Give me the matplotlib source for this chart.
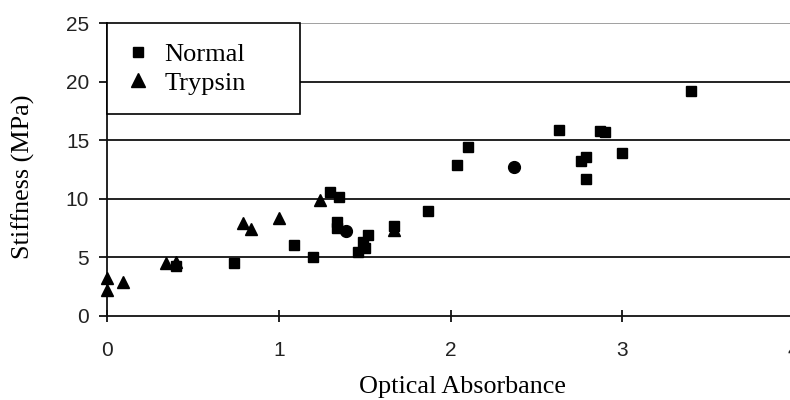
import matplotlib
matplotlib.use("Agg")
import matplotlib.pyplot as plt
from matplotlib.lines import Line2D

# Data
normal_x = [0.40, 0.74, 1.09, 1.20, 1.30, 1.35, 1.34, 1.34, 1.46, 1.50, 1.49, 1.52,
            1.67, 1.87, 2.04, 2.10, 2.63, 2.76, 2.79, 2.79, 2.87, 2.90, 3.00, 3.40]
normal_y = [4.2, 4.5, 6.0, 5.0, 10.6, 10.1, 8.0, 7.5, 5.4, 5.8, 6.3, 6.9,
            7.7, 8.9, 12.9, 14.4, 15.9, 13.2, 13.6, 11.7, 15.8, 15.7, 13.9, 19.2]
trypsin_x = [0.00, 0.00, 0.09, 0.34, 0.40, 0.79, 0.84, 1.00, 1.24, 1.67]
trypsin_y = [3.2, 2.2, 2.9, 4.5, 4.6, 7.9, 7.4, 8.3, 9.9, 7.3]
overlap_x = [1.39, 2.37]
overlap_y = [7.2, 12.7]

xticks = [0, 1, 2, 3, 4]
yticks = [0, 5, 10, 15, 20, 25]

fig = plt.figure(figsize=(7.9, 4.0), dpi=100)
ax = fig.add_axes([107.3 / 790, 84.5 / 400, 686.4 / 790, 292.2 / 400])

ax.set_xlim(0, 4)
ax.set_ylim(0, 25)
ax.set_xticks(xticks)
ax.set_yticks(yticks)

for v in yticks[1:-1]:
    ax.axhline(v, color="#111111", lw=1.3, zorder=1)
ax.axhline(25, color="#999999", lw=1.3, zorder=1)

ax.plot(normal_x, normal_y, linestyle="none", marker="s", ms=7, color="black",
        zorder=3, clip_on=False)
ax.plot(trypsin_x, trypsin_y, linestyle="none", marker="^", ms=8, color="black",
        zorder=3, clip_on=False)
ax.plot(overlap_x, overlap_y, linestyle="none", marker="o", ms=8.5, color="black",
        zorder=3, clip_on=False)

for s in ["top", "right"]:
    ax.spines[s].set_visible(False)
ax.spines["left"].set_color("#111111")
ax.spines["bottom"].set_color("#111111")
ax.spines["left"].set_linewidth(1.3)
ax.spines["bottom"].set_linewidth(1.3)

ax.tick_params(axis="x", direction="inout", length=8, width=1.3, color="#111111",
               labelsize=15, labelcolor="#222222", pad=14)
ax.tick_params(axis="y", direction="out", length=6, width=1.3, color="#111111",
               labelsize=15, labelcolor="#222222", pad=7)
for lab in ax.get_xticklabels() + ax.get_yticklabels():
    lab.set_fontfamily("Liberation Sans")

ax.set_xlabel("Optical Absorbance", family="Liberation Serif", fontsize=18.8)
ax.set_ylabel("Stiffness (MPa)", family="Liberation Serif", fontsize=18.8)
ax.xaxis.set_label_coords(0.517, -0.207)
ax.xaxis.label.set_va("top")
ax.yaxis.set_label_coords(-0.106, 0.474)

handles = [
    Line2D([], [], linestyle="none", marker="s", ms=7, color="black"),
    Line2D([], [], linestyle="none", marker="^", ms=10, color="black"),
]
leg_h = 89 / 292.2
leg = ax.legend(handles, ["Normal", "Trypsin"], loc="upper left",
                bbox_to_anchor=(0.0, 1.0 - leg_h, 193 / 686.4, leg_h),
                mode="expand", borderaxespad=0,
                frameon=True, fancybox=False,
                edgecolor="black", framealpha=1, borderpad=0.72,
                handletextpad=0.6, handlelength=0.85, labelspacing=0.2,
                prop={"family": "Liberation Serif", "size": 19})
leg.get_frame().set_linewidth(1.2)
leg.set_zorder(5)

fig.savefig("out.png", dpi=100)
